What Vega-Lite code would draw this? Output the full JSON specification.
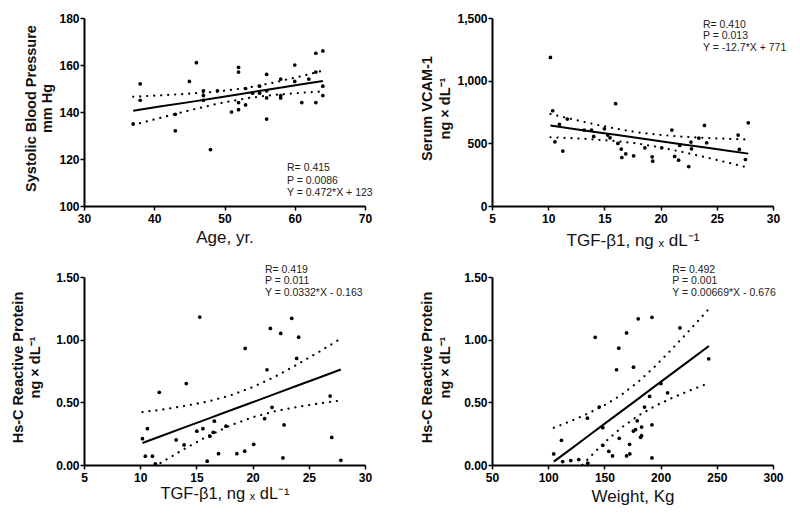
{
  "$schema": "https://vega.github.io/schema/vega-lite/v6.json",
  "padding": {"left": 9, "top": 12, "right": 5, "bottom": 5},
  "background": "white",
  "bounds": "flush",
  "columns": 2,
  "spacing": {"row": 71, "column": 127},
  "config": {
    "view": {"stroke": null},
    "font": "Liberation Sans",
    "axis": {
      "domainColor": "black", "domainWidth": 2, "tickColor": "black", "tickWidth": 1.5, "tickSize": 4,
      "labelFont": "Liberation Sans", "labelFontWeight": 700, "labelFontSize": 12, "labelColor": "#000",
      "titleFont": "Liberation Sans", "titleColor": "#111", "grid": false, "labelFlush": false, "labelOverlap": false
    },
    "axisX": {"titleFontWeight": "normal", "titleFontSize": 17, "labelPadding": 3, "titleBaseline": "alphabetic", "labelFontWeight": 700},
    "axisY": {"titleFontWeight": "bold", "titleFontSize": 14.5, "titleLineHeight": 17.5, "labelPadding": 1, "titleBaseline": "middle", "titleY": 90, "labelFontWeight": 700}
  },
  "datasets": {
    "p1": [
      {"x":37,"y":135},{"x":38,"y":152},{"x":38,"y":145},{"x":43,"y":139},{"x":43,"y":132},{"x":45,"y":153},{"x":46,"y":161},{"x":47,"y":149},{"x":47,"y":147},{"x":47,"y":145},{"x":48,"y":124},{"x":49,"y":149},{"x":51,"y":140},{"x":52,"y":159},{"x":52,"y":157},{"x":52,"y":144},{"x":52,"y":141},{"x":53,"y":150},{"x":53,"y":143},{"x":54,"y":148},{"x":55,"y":151},{"x":55,"y":148},{"x":56,"y":156},{"x":56,"y":149},{"x":56,"y":146},{"x":56,"y":137},{"x":58,"y":154},{"x":58,"y":147},{"x":58,"y":146},{"x":60,"y":160},{"x":60,"y":153},{"x":61,"y":144},{"x":62,"y":154},{"x":63,"y":165},{"x":63,"y":157},{"x":63,"y":144},{"x":64,"y":166},{"x":64,"y":151},{"x":64,"y":147}
    ],
    "b1": [
      {"x":37,"fit":140.5,"lo":134.5,"hi":146.5},{"x":41,"fit":142.4,"lo":137.6,"hi":147.1},{"x":45,"fit":144.2,"lo":140.7,"hi":147.8},{"x":49,"fit":146.1,"lo":143.5,"hi":148.7},{"x":53,"fit":148.0,"lo":145.8,"hi":150.2},{"x":57,"fit":149.9,"lo":147.3,"hi":152.5},{"x":61,"fit":151.8,"lo":148.2,"hi":155.3},{"x":64,"fit":153.2,"lo":148.8,"hi":157.6}
    ],
    "p2": [
      {"x":10.2,"y":1185},{"x":10.4,"y":760},{"x":10.6,"y":512},{"x":11.0,"y":651},{"x":11.3,"y":438},{"x":11.7,"y":694},{"x":13.2,"y":606},{"x":13.85,"y":606},{"x":14.05,"y":555},{"x":15.0,"y":616},{"x":15.3,"y":566},{"x":15.5,"y":544},{"x":16.0,"y":816},{"x":16.2,"y":499},{"x":16.5,"y":454},{"x":16.55,"y":387},{"x":16.9,"y":416},{"x":17.6,"y":400},{"x":18.6,"y":464},{"x":19.25,"y":392},{"x":19.3,"y":358},{"x":20.1,"y":464},{"x":21.0,"y":606},{"x":21.25,"y":395},{"x":21.6,"y":366},{"x":21.7,"y":483},{"x":22.5,"y":315},{"x":22.7,"y":510},{"x":22.75,"y":456},{"x":23.4,"y":542},{"x":23.9,"y":643},{"x":24.1,"y":504},{"x":26.9,"y":566},{"x":27.0,"y":451},{"x":27.55,"y":371},{"x":27.8,"y":664}
    ],
    "b2": [
      {"x":10.2,"fit":641.5,"lo":548.5,"hi":734.5},{"x":12,"fit":618.6,"lo":541.5,"hi":695.7},{"x":14,"fit":593.2,"lo":531.8,"hi":654.6},{"x":16,"fit":567.8,"lo":518.2,"hi":617.4},{"x":18,"fit":542.4,"lo":497.4,"hi":587.4},{"x":20,"fit":517.0,"lo":467.4,"hi":566.6},{"x":22,"fit":491.6,"lo":430.2,"hi":553.0},{"x":24,"fit":466.2,"lo":389.1,"hi":543.3},{"x":26,"fit":440.8,"lo":345.9,"hi":535.7},{"x":27.8,"fit":417.9,"lo":306.1,"hi":529.7}
    ],
    "p3": [
      {"x":10.2,"y":0.21},{"x":10.64,"y":0.29},{"x":10.46,"y":0.07},{"x":11.09,"y":0.07},{"x":11.35,"y":0.01},{"x":11.7,"y":0.58},{"x":13.2,"y":0.2},{"x":13.9,"y":0.16},{"x":14.1,"y":0.65},{"x":15.04,"y":0.27},{"x":15.3,"y":1.18},{"x":15.58,"y":0.29},{"x":15.96,"y":0.03},{"x":16.2,"y":0.23},{"x":16.5,"y":0.26},{"x":16.6,"y":0.35},{"x":16.97,"y":0.09},{"x":17.63,"y":0.31},{"x":18.6,"y":0.09},{"x":19.3,"y":0.11},{"x":19.34,"y":0.93},{"x":20.1,"y":0.165},{"x":21.07,"y":0.37},{"x":21.28,"y":0.76},{"x":21.58,"y":1.09},{"x":21.73,"y":0.46},{"x":22.5,"y":1.05},{"x":22.7,"y":0.056},{"x":22.8,"y":0.32},{"x":23.48,"y":1.17},{"x":23.92,"y":0.85},{"x":24.1,"y":1.02},{"x":26.9,"y":0.55},{"x":27.04,"y":0.22},{"x":27.85,"y":0.037}
    ],
    "b3": [
      {"x":10.2,"fit":0.176,"lo":-0.07,"hi":0.422},{"x":12,"fit":0.235,"lo":0.027,"hi":0.443},{"x":14,"fit":0.302,"lo":0.132,"hi":0.472},{"x":16,"fit":0.368,"lo":0.23,"hi":0.506},{"x":18,"fit":0.435,"lo":0.315,"hi":0.554},{"x":20,"fit":0.501,"lo":0.381,"hi":0.621},{"x":22,"fit":0.567,"lo":0.429,"hi":0.705},{"x":24,"fit":0.634,"lo":0.464,"hi":0.804},{"x":26,"fit":0.7,"lo":0.492,"hi":0.908},{"x":27.85,"fit":0.762,"lo":0.515,"hi":1.009}
    ],
    "p4": [
      {"x":104.9,"y":0.088},{"x":111.8,"y":0.197},{"x":112.9,"y":0.027},{"x":120.1,"y":0.035},{"x":127.2,"y":0.043},{"x":134.9,"y":0.374},{"x":135.2,"y":0.014},{"x":141.8,"y":1.019},{"x":145.4,"y":0.462},{"x":148.6,"y":0.298},{"x":148.6,"y":0.157},{"x":153.9,"y":0.109},{"x":157.2,"y":0.072},{"x":160.8,"y":0.76},{"x":162.8,"y":0.932},{"x":163.2,"y":0.213},{"x":169.7,"y":1.054},{"x":169.7,"y":0.072},{"x":172.4,"y":0.165},{"x":172.6,"y":0.088},{"x":175.7,"y":0.271},{"x":175.9,"y":0.78},{"x":177.7,"y":0.282},{"x":179.2,"y":0.353},{"x":180.1,"y":1.166},{"x":182.2,"y":0.221},{"x":183.1,"y":0.303},{"x":183.1,"y":0.234},{"x":185.7,"y":0.462},{"x":190.2,"y":0.547},{"x":192.3,"y":1.178},{"x":192.3,"y":0.321},{"x":192.3,"y":0.056},{"x":200.3,"y":0.65},{"x":206.2,"y":0.576},{"x":217.2,"y":1.094},{"x":242.8,"y":0.847}
    ],
    "b4": [
      {"x":105,"fit":0.027,"lo":-0.244,"hi":0.297},{"x":120,"fit":0.127,"lo":-0.097,"hi":0.35},{"x":135,"fit":0.227,"lo":0.045,"hi":0.409},{"x":150,"fit":0.328,"lo":0.179,"hi":0.477},{"x":165,"fit":0.428,"lo":0.297,"hi":0.559},{"x":180,"fit":0.528,"lo":0.393,"hi":0.663},{"x":195,"fit":0.629,"lo":0.47,"hi":0.787},{"x":210,"fit":0.729,"lo":0.534,"hi":0.924},{"x":225,"fit":0.829,"lo":0.591,"hi":1.068},{"x":243,"fit":0.95,"lo":0.654,"hi":1.246}
    ]
  },
  "concat": [
    {
      "width": 281, "height": 188,
      "layer": [
        {
          "data": {"name": "p1"},
          "mark": {"type": "circle", "size": 14, "color": "black", "opacity": 1},
          "encoding": {
            "x": {"field": "x", "type": "quantitative", "scale": {"domain": [30, 70], "nice": false, "zero": false},
                  "axis": {"title": "Age, yr.", "values": [30, 40, 50, 60, 70], "titleY": 36, "labelFontWeight": 700}},
            "y": {"field": "y", "type": "quantitative", "scale": {"domain": [100, 180], "nice": false, "zero": false},
                  "axis": {"title": ["Systolic Blood Pressure", "mm Hg"], "values": [100, 120, 140, 160, 180], "titleX": -53, "titleLineHeight": 16.5, "labelFontWeight": 700}}
          }
        },
        {
          "data": {"name": "b1"},
          "mark": {"type": "line", "color": "black", "strokeWidth": 2},
          "encoding": {"x": {"field": "x", "type": "quantitative"}, "y": {"field": "fit", "type": "quantitative"}}
        },
        {
          "data": {"name": "b1"},
          "mark": {"type": "line", "color": "black", "strokeWidth": 2.2, "strokeDash": [0.1, 6.9], "strokeCap": "round", "clip": true},
          "encoding": {"x": {"field": "x", "type": "quantitative"}, "y": {"field": "lo", "type": "quantitative"}}
        },
        {
          "data": {"name": "b1"},
          "mark": {"type": "line", "color": "black", "strokeWidth": 2.2, "strokeDash": [0.1, 6.9], "strokeCap": "round", "clip": true},
          "encoding": {"x": {"field": "x", "type": "quantitative"}, "y": {"field": "hi", "type": "quantitative"}}
        },
        {
          "data": {"values": [{}]},
          "mark": {"type": "text", "align": "left", "baseline": "middle", "fontSize": 10.5, "lineHeight": 12.5, "color": "#222", "font": "Liberation Sans"},
          "encoding": {
            "x": {"datum": 58.9, "type": "quantitative"},
            "y": {"datum": 116.0, "type": "quantitative"},
            "text": {"value": ["R= 0.415", "P = 0.0086", "Y = 0.472*X + 123"]}
          }
        }
      ]
    },
    {
      "width": 281, "height": 188,
      "layer": [
        {
          "data": {"name": "p2"},
          "mark": {"type": "circle", "size": 14, "color": "black", "opacity": 1},
          "encoding": {
            "x": {"field": "x", "type": "quantitative", "scale": {"domain": [5, 30], "nice": false, "zero": false},
                  "axis": {"title": "TGF-β1, ng ₓ dL⁻¹", "values": [5, 10, 15, 20, 25, 30], "titleY": 39, "labelFontWeight": 700}},
            "y": {"field": "y", "type": "quantitative", "scale": {"domain": [0, 1500], "nice": false},
                  "axis": {"title": ["Serum VCAM-1", "ng × dL⁻¹"], "values": [0, 500, 1000, 1500], "labelExpr": "format(datum.value, ',')", "titleX": -64.5, "labelFontWeight": 700}}
          }
        },
        {
          "data": {"name": "b2"},
          "mark": {"type": "line", "color": "black", "strokeWidth": 2},
          "encoding": {"x": {"field": "x", "type": "quantitative"}, "y": {"field": "fit", "type": "quantitative"}}
        },
        {
          "data": {"name": "b2"},
          "mark": {"type": "line", "color": "black", "strokeWidth": 2.2, "strokeDash": [0.1, 6.9], "strokeCap": "round", "clip": true},
          "encoding": {"x": {"field": "x", "type": "quantitative"}, "y": {"field": "lo", "type": "quantitative"}}
        },
        {
          "data": {"name": "b2"},
          "mark": {"type": "line", "color": "black", "strokeWidth": 2.2, "strokeDash": [0.1, 6.9], "strokeCap": "round", "clip": true},
          "encoding": {"x": {"field": "x", "type": "quantitative"}, "y": {"field": "hi", "type": "quantitative"}}
        },
        {
          "data": {"values": [{}]},
          "mark": {"type": "text", "align": "left", "baseline": "middle", "fontSize": 10.5, "lineHeight": 11.7, "color": "#222", "font": "Liberation Sans"},
          "encoding": {
            "x": {"datum": 23.77, "type": "quantitative"},
            "y": {"datum": 1446, "type": "quantitative"},
            "text": {"value": ["R= 0.410", "P = 0.013", "Y = -12.7*X + 771"]}
          }
        }
      ]
    },
    {
      "width": 281, "height": 188,
      "layer": [
        {
          "data": {"name": "p3"},
          "mark": {"type": "circle", "size": 14, "color": "black", "opacity": 1},
          "encoding": {
            "x": {"field": "x", "type": "quantitative", "scale": {"domain": [5, 30], "nice": false, "zero": false},
                  "axis": {"title": "TGF-β1, ng ₓ dL⁻¹", "values": [5, 10, 15, 20, 25, 30], "titleY": 33, "titleFontSize": 16.5, "labelFontWeight": 700}},
            "y": {"field": "y", "type": "quantitative", "scale": {"domain": [0, 1.5], "nice": false},
                  "axis": {"title": ["Hs-C Reactive Protein", "ng × dL⁻¹"], "values": [0, 0.5, 1, 1.5], "labelExpr": "format(datum.value, '.2f')", "titleX": -66, "labelFontWeight": 700}}
          }
        },
        {
          "data": {"name": "b3"},
          "mark": {"type": "line", "color": "black", "strokeWidth": 2},
          "encoding": {"x": {"field": "x", "type": "quantitative"}, "y": {"field": "fit", "type": "quantitative"}}
        },
        {
          "data": {"name": "b3"},
          "mark": {"type": "line", "color": "black", "strokeWidth": 2.2, "strokeDash": [0.1, 6.9], "strokeCap": "round", "clip": true},
          "encoding": {"x": {"field": "x", "type": "quantitative"}, "y": {"field": "lo", "type": "quantitative"}}
        },
        {
          "data": {"name": "b3"},
          "mark": {"type": "line", "color": "black", "strokeWidth": 2.2, "strokeDash": [0.1, 6.9], "strokeCap": "round", "clip": true},
          "encoding": {"x": {"field": "x", "type": "quantitative"}, "y": {"field": "hi", "type": "quantitative"}}
        },
        {
          "data": {"values": [{}]},
          "mark": {"type": "text", "align": "left", "baseline": "middle", "fontSize": 10.5, "lineHeight": 11.7, "color": "#222", "font": "Liberation Sans"},
          "encoding": {
            "x": {"datum": 21.1, "type": "quantitative"},
            "y": {"datum": 1.558, "type": "quantitative"},
            "text": {"value": ["R= 0.419", "P = 0.011", "Y = 0.0332*X - 0.163"]}
          }
        }
      ]
    },
    {
      "width": 281, "height": 188,
      "layer": [
        {
          "data": {"name": "p4"},
          "mark": {"type": "circle", "size": 14, "color": "black", "opacity": 1},
          "encoding": {
            "x": {"field": "x", "type": "quantitative", "scale": {"domain": [50, 300], "nice": false, "zero": false},
                  "axis": {"title": "Weight, Kg", "values": [50, 100, 150, 200, 250, 300], "titleY": 36, "labelFontWeight": 700}},
            "y": {"field": "y", "type": "quantitative", "scale": {"domain": [0, 1.5], "nice": false},
                  "axis": {"title": ["Hs-C Reactive Protein", "ng × dL⁻¹"], "values": [0, 0.5, 1, 1.5], "labelExpr": "format(datum.value, '.2f')", "titleX": -64.5, "labelFontWeight": 700}}
          }
        },
        {
          "data": {"name": "b4"},
          "mark": {"type": "line", "color": "black", "strokeWidth": 2},
          "encoding": {"x": {"field": "x", "type": "quantitative"}, "y": {"field": "fit", "type": "quantitative"}}
        },
        {
          "data": {"name": "b4"},
          "mark": {"type": "line", "color": "black", "strokeWidth": 2.2, "strokeDash": [0.1, 6.9], "strokeCap": "round", "clip": true},
          "encoding": {"x": {"field": "x", "type": "quantitative"}, "y": {"field": "lo", "type": "quantitative"}}
        },
        {
          "data": {"name": "b4"},
          "mark": {"type": "line", "color": "black", "strokeWidth": 2.2, "strokeDash": [0.1, 6.9], "strokeCap": "round", "clip": true},
          "encoding": {"x": {"field": "x", "type": "quantitative"}, "y": {"field": "hi", "type": "quantitative"}}
        },
        {
          "data": {"values": [{}]},
          "mark": {"type": "text", "align": "left", "baseline": "middle", "fontSize": 10.5, "lineHeight": 11.7, "color": "#222", "font": "Liberation Sans"},
          "encoding": {
            "x": {"datum": 210.4, "type": "quantitative"},
            "y": {"datum": 1.558, "type": "quantitative"},
            "text": {"value": ["R= 0.492", "P = 0.001", "Y = 0.00669*X - 0.676"]}
          }
        }
      ]
    }
  ]
}
